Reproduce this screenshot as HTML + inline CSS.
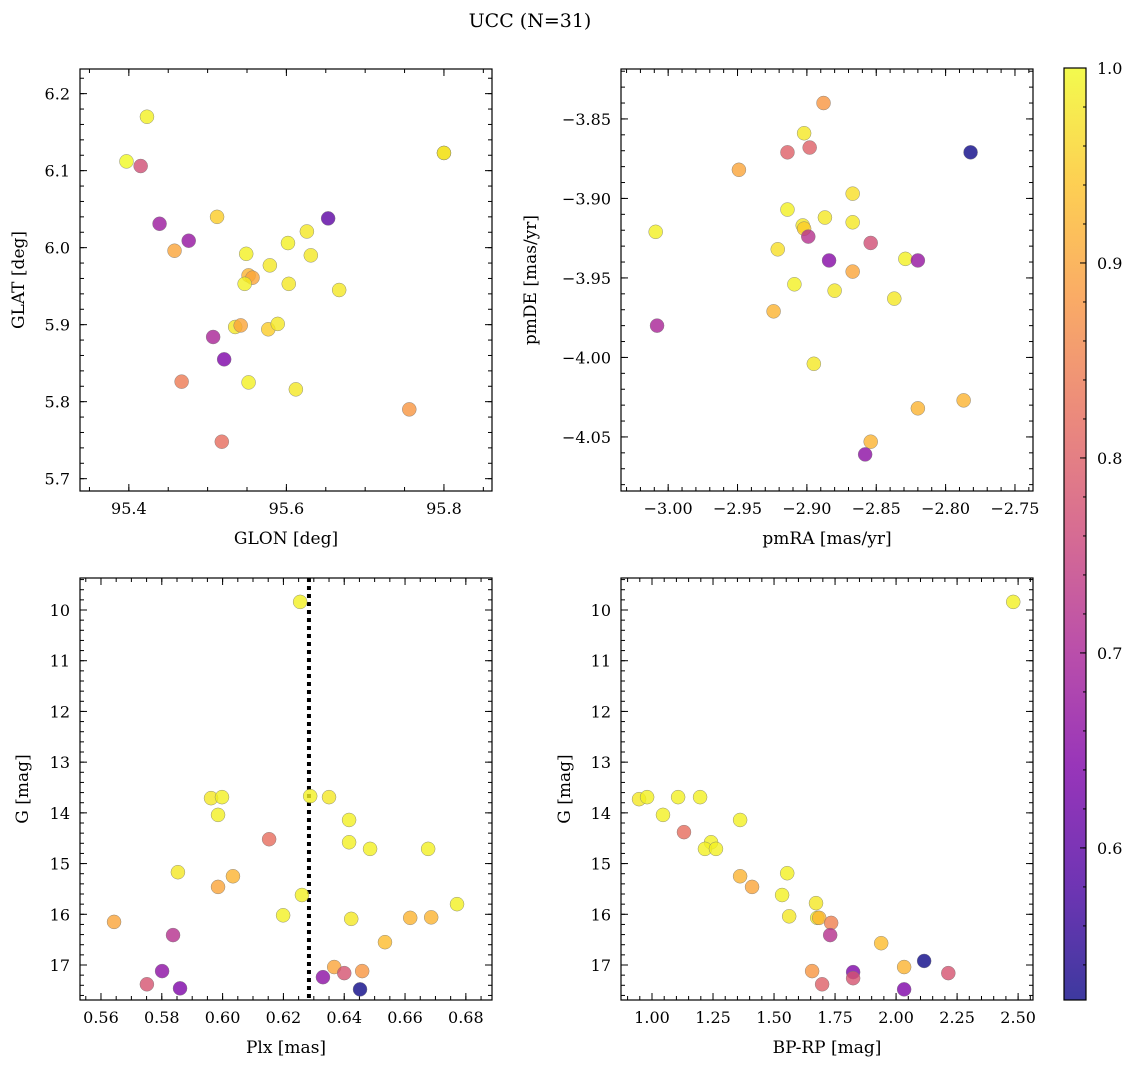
<!DOCTYPE html>
<html><head><meta charset="utf-8">
<style>
body{margin:0;background:#fff;}
svg text{font-family:"DejaVu Serif","Liberation Serif",serif;fill:#000;}
</style></head>
<body>
<svg id="fig" width="1136" height="1068" viewBox="0 0 1136 1068" xmlns="http://www.w3.org/2000/svg">
<text x="530" y="27" font-size="19" text-anchor="middle">UCC (N=31)</text>
<defs>
<linearGradient id="cbgrad" x1="0" y1="1" x2="0" y2="0">
<stop offset="0" stop-color="#0d0887"/><stop offset="0.125" stop-color="#4c02a1"/><stop offset="0.25" stop-color="#7e03a8"/><stop offset="0.375" stop-color="#a92395"/><stop offset="0.5" stop-color="#cc4778"/><stop offset="0.625" stop-color="#e66c5c"/><stop offset="0.75" stop-color="#f89540"/><stop offset="0.875" stop-color="#fdc328"/><stop offset="1" stop-color="#f0f921"/>
</linearGradient>
</defs>
</svg>
<script>
// Panel 1: GLON / GLAT
const glon=[95.397,95.423,95.415,95.439,95.476,95.458,95.512,95.549,95.552,95.557,95.547,95.579,95.602,95.626,95.631,95.603,95.653,95.667,95.800,95.800,95.535,95.542,95.577,95.589,95.507,95.521,95.467,95.552,95.612,95.518,95.756];
const glat=[6.112,6.170,6.106,6.031,6.009,5.996,6.040,5.992,5.964,5.961,5.953,5.977,6.006,6.021,5.990,5.953,6.038,5.945,6.123,6.123,5.897,5.899,5.894,5.901,5.884,5.855,5.826,5.825,5.816,5.748,5.790];
const prob1=[1.0,0.99,0.77,0.68,0.67,0.9,0.95,0.99,0.92,0.9,0.99,0.98,0.99,0.98,0.98,0.98,0.6,0.98,0.9,0.99,0.98,0.9,0.95,0.98,0.7,0.64,0.84,0.99,0.98,0.82,0.88];
// Panel 2: pmRA / pmDE
const pmra=[-2.888,-2.902,-2.898,-2.914,-2.782,-2.949,-2.867,-2.914,-2.887,-2.903,-2.902,-2.867,-2.899,-3.009,-2.921,-2.854,-2.884,-2.829,-2.820,-2.867,-2.909,-2.880,-2.837,-3.008,-2.924,-2.895,-2.787,-2.820,-2.854,-2.858];
const pmde=[-3.840,-3.859,-3.868,-3.871,-3.871,-3.882,-3.897,-3.907,-3.912,-3.917,-3.919,-3.915,-3.924,-3.921,-3.932,-3.928,-3.939,-3.938,-3.939,-3.946,-3.954,-3.958,-3.963,-3.980,-3.971,-4.004,-4.027,-4.032,-4.053,-4.061];
const prob2=[0.88,0.98,0.8,0.8,0.52,0.9,0.97,0.99,0.98,0.98,0.95,0.98,0.72,0.99,0.97,0.77,0.65,0.99,0.67,0.9,0.99,0.98,0.98,0.7,0.92,0.98,0.92,0.92,0.92,0.66];
// Panel 3: Plx / G
const plx=[0.6255,0.5962,0.5998,0.5985,0.5853,0.6153,0.5985,0.6034,0.5643,0.5837,0.5801,0.5751,0.586,0.6199,0.6261,0.6288,0.635,0.6416,0.6416,0.6485,0.6676,0.6423,0.6617,0.6686,0.6771,0.6534,0.6367,0.640,0.6459,0.6452,0.633];
const gmag3=[9.84,13.71,13.69,14.04,15.17,14.52,15.46,15.25,16.15,16.41,17.12,17.38,17.46,16.02,15.62,13.67,13.69,14.14,14.58,14.71,14.71,16.09,16.07,16.06,15.80,16.55,17.04,17.16,17.12,17.48,17.24];
const prob3=[0.99,0.98,0.99,0.99,0.98,0.82,0.9,0.92,0.9,0.72,0.66,0.78,0.64,0.99,0.99,0.99,0.98,0.99,0.99,0.99,0.99,0.98,0.92,0.92,0.99,0.93,0.9,0.78,0.88,0.52,0.66];
// Panel 4: BP-RP / G
const bprp=[2.480,0.947,0.980,1.045,1.107,1.197,1.131,1.242,1.217,1.262,1.361,1.361,1.410,1.533,1.554,1.562,1.672,1.677,1.685,1.734,1.730,1.939,1.824,1.824,1.656,1.697,2.033,2.115,2.214,2.033];
const gmag4=[9.84,13.73,13.69,14.04,13.69,13.69,14.38,14.58,14.71,14.71,14.14,15.25,15.46,15.62,15.19,16.04,15.78,16.07,16.07,16.17,16.41,16.57,17.14,17.26,17.12,17.38,17.04,16.92,17.16,17.48];
const prob4=[0.99,0.98,0.99,0.99,0.99,0.99,0.82,0.99,0.99,0.99,0.99,0.92,0.9,0.99,0.99,0.98,0.98,0.99,0.92,0.85,0.72,0.93,0.64,0.78,0.88,0.8,0.92,0.52,0.78,0.64];
// Colorbar ticks
const cbTicks=[0.6,0.7,0.8,0.9,1.0];

const NS='http://www.w3.org/2000/svg';
const svg=document.getElementById('fig');
function mk(tag,attrs,parent){const e=document.createElementNS(NS,tag);for(const k in attrs)e.setAttribute(k,attrs[k]);(parent||svg).appendChild(e);return e;}
const stops=[[0,[13,8,135]],[0.125,[76,2,161]],[0.25,[126,3,168]],[0.375,[169,35,149]],[0.5,[204,71,120]],[0.625,[230,108,92]],[0.75,[248,149,64]],[0.875,[253,195,40]],[1,[240,249,33]]];
const VMIN=0.522,VMAX=1.0;
function plasma(v){let t=(v-VMIN)/(VMAX-VMIN);t=Math.max(0,Math.min(1,t));for(let i=1;i<stops.length;i++){if(t<=stops[i][0]){const a=stops[i-1],b=stops[i];const f=(t-a[0])/(b[0]-a[0]);const c=a[1].map((x,j)=>Math.round(x+(b[1][j]-x)*f));return `rgb(${c[0]},${c[1]},${c[2]})`;}}return 'rgb(240,249,33)';}
function fmt(v,d){const s=Math.abs(v).toFixed(d);return (v<-1e-9?'\u2212':'')+s;}

function panel(p){
  const {x0,x1,y0,y1,xmin,xmax,ymin,ymax,inv}=p;
  const g=mk('g',{});
  
  
  const sx=v=>x0+(v-xmin)/(xmax-xmin)*(x1-x0);
  const sy=inv?(v=>y0+(v-ymin)/(ymax-ymin)*(y1-y0)):(v=>y1-(v-ymin)/(ymax-ymin)*(y1-y0));
  const tg=mk('g',{stroke:'#000','stroke-width':1},g);
  function ticks(lo,hi,step,len,isX,lab,dec){
    const start=Math.ceil((lo-1e-9)/step)*step;
    for(let v=start;v<=hi+1e-9;v+=step){
      if(isX){const X=sx(v);mk('line',{x1:X,x2:X,y1:y1,y2:y1-len},tg);mk('line',{x1:X,x2:X,y1:y0,y2:y0+len},tg);
        if(lab){const t=mk('text',{x:X,y:y1+23,'font-size':16,'text-anchor':'middle',stroke:'none'},g);t.textContent=fmt(v,dec);}}
      else{const Y=sy(v);mk('line',{x1:x0,x2:x0+len,y1:Y,y2:Y},tg);mk('line',{x1:x1,x2:x1-len,y1:Y,y2:Y},tg);
        if(lab){const t=mk('text',{x:x0-10,y:Y+6,'font-size':16,'text-anchor':'end',stroke:'none'},g);t.textContent=fmt(v,dec);}}
    }
  }
  ticks(xmin,xmax,p.xmin_step,4,true,false);
  ticks(xmin,xmax,p.xstep,7,true,true,p.xdec);
  const ylo=Math.min(ymin,ymax),yhi=Math.max(ymin,ymax);
  ticks(ylo,yhi,p.ymin_step,4,false,false);
  ticks(ylo,yhi,p.ystep,7,false,true,p.ydec);
  if(p.vline!==undefined){const l=mk('line',{x1:sx(p.vline),x2:sx(p.vline),y1:y0,y2:y1,stroke:'#000','stroke-width':4,'stroke-dasharray':'4,4'},g);
    }
  for(let i=0;i<p.xs.length;i++){
    const c=mk('circle',{cx:sx(p.xs[i]),cy:sy(p.ys[i]),r:7,fill:plasma(p.c[i]),'fill-opacity':0.8,stroke:'#777','stroke-width':0.5,'stroke-opacity':0.8},g);
    
    
  }
  const fr=mk('rect',{x:x0,y:y0,width:x1-x0,height:y1-y0,fill:'none',stroke:'#000','stroke-width':1.2},g);
  
  const xl=mk('text',{x:(x0+x1)/2,y:y1+53,'font-size':17,'text-anchor':'middle'},g);xl.textContent=p.xlabel;
  
  const yx=p.ylx;const yy=(y0+y1)/2;
  const yl=mk('text',{x:yx,y:yy,'font-size':17,'text-anchor':'middle',transform:`rotate(-90 ${yx} ${yy})`},g);yl.textContent=p.ylabel;
  
}

panel({name:'glon-glat-panel',x0:80,x1:492,y0:69,y1:491,xmin:95.338,xmax:95.861,ymin:5.684,ymax:6.232,xstep:0.2,xmin_step:0.05,xdec:1,ystep:0.1,ymin_step:0.02,ydec:1,xs:glon,ys:glat,c:prob1,xlabel:'GLON [deg]',ylabel:'GLAT [deg]',ylx:24});
panel({name:'proper-motion-panel',x0:621,x1:1033,y0:69,y1:491,xmin:-3.034,xmax:-2.737,ymin:-4.084,ymax:-3.8186,xstep:0.05,xmin_step:0.01,xdec:2,ystep:0.05,ymin_step:0.01,ydec:2,xs:pmra,ys:pmde,c:prob2,xlabel:'pmRA [mas/yr]',ylabel:'pmDE [mas/yr]',ylx:536});
panel({name:'parallax-magnitude-panel',x0:80,x1:492,y0:578,y1:1000,xmin:0.5531,xmax:0.6886,ymin:9.369,ymax:17.69,inv:true,xstep:0.02,xmin_step:0.005,xdec:2,ystep:1,ymin_step:0.2,ydec:0,xs:plx,ys:gmag3,c:prob3,xlabel:'Plx [mas]',ylabel:'G [mag]',ylx:28,vline:0.6284});
panel({name:'color-magnitude-panel',x0:621,x1:1033,y0:578,y1:1000,xmin:0.873,xmax:2.561,ymin:9.369,ymax:17.69,inv:true,xstep:0.25,xmin_step:0.05,xdec:2,ystep:1,ymin_step:0.2,ydec:0,xs:bprp,ys:gmag4,c:prob4,xlabel:'BP-RP [mag]',ylabel:'G [mag]',ylx:570});

const cb=mk('g',{});


const cbx0=1064,cbx1=1086,cby0=68,cby1=1000;
mk('rect',{x:cbx0,y:cby0,width:cbx1-cbx0,height:cby1-cby0,fill:'url(#cbgrad)','fill-opacity':0.8},cb);
mk('rect',{x:cbx0,y:cby0,width:cbx1-cbx0,height:cby1-cby0,fill:'none',stroke:'#000','stroke-width':1.2},cb);
const cy=v=>cby1-(v-VMIN)/(VMAX-VMIN)*(cby1-cby0);
for(let v=0.54;v<=1.0001;v+=0.02){const Y=cy(v);mk('line',{x1:cbx1,x2:cbx1-3,y1:Y,y2:Y,stroke:'#000'},cb);}
for(const v of cbTicks){const Y=cy(v);mk('line',{x1:cbx1,x2:cbx1-6,y1:Y,y2:Y,stroke:'#000'},cb);
  const t=mk('text',{x:1097,y:Y+6,'font-size':16},cb);t.textContent=v.toFixed(1);
  
  }
</script>
</body></html>
